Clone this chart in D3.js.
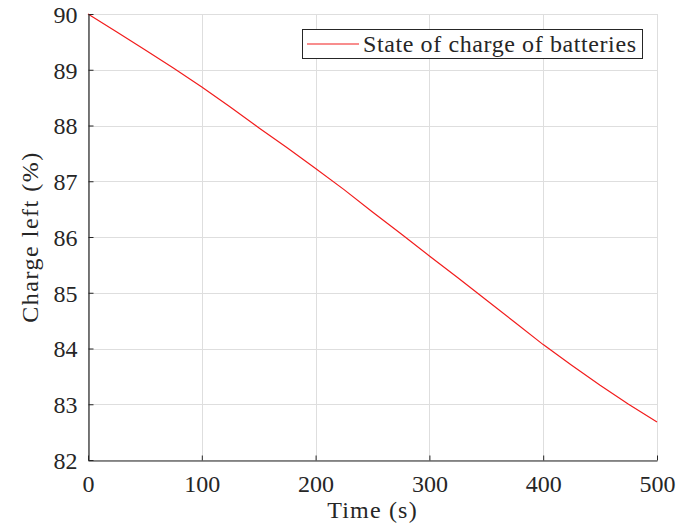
<!DOCTYPE html>
<html>
<head>
<meta charset="utf-8">
<script src="https://cdn.jsdelivr.net/npm/d3@7"></script>
<style>
  html, body { margin: 0; padding: 0; background: #fff; }
  svg { display: block; }
  text { font-family: "Liberation Serif", "DejaVu Serif", serif; fill: #262626; }
</style>
</head>
<body>
<svg id="chart" width="690" height="524"></svg>
<script>
// Battery state of charge over time
const timeS = [0, 25, 50, 75, 100, 125, 150, 175, 200, 225, 250, 275, 300, 325, 350, 375, 400, 425, 450, 475, 500];
const chargePct = [90.00, 89.68, 89.36, 89.03, 88.69, 88.33, 87.96, 87.60, 87.23, 86.85, 86.45, 86.06, 85.66, 85.27, 84.87, 84.47, 84.07, 83.70, 83.34, 83.00, 82.68];
const xTicks = [0, 100, 200, 300, 400, 500];
const yTicks = [82, 83, 84, 85, 86, 87, 88, 89, 90];
const seriesName = "State of charge of batteries";
const xLabel = "Time (s)";
const yLabel = "Charge left (%)";

const svg = d3.select("#chart");
const m = { left: 88, right: 657, top: 14, bottom: 460 };

const x = d3.scaleLinear().domain([0, 500]).range([m.left, m.right]);
const y = d3.scaleLinear().domain([82, 90]).range([m.bottom, m.top]);

const fontSize = 24;
const serif = '"Liberation Serif", "DejaVu Serif", serif';

// grid
const grid = svg.append("g").attr("stroke", "#dedede").attr("stroke-width", 1);
grid.selectAll("line.v").data(xTicks).join("line")
  .attr("x1", d => Math.round(x(d)) + 0.5).attr("x2", d => Math.round(x(d)) + 0.5)
  .attr("y1", m.top).attr("y2", m.bottom);
grid.selectAll("line.h").data(yTicks).join("line")
  .attr("y1", d => Math.round(y(d)) + 0.5).attr("y2", d => Math.round(y(d)) + 0.5)
  .attr("x1", m.left).attr("x2", m.right);

// data line
const line = d3.line().x((d, i) => x(timeS[i])).y(d => y(d));
svg.append("path")
  .datum(chargePct)
  .attr("fill", "none")
  .attr("stroke", "#f21c1c")
  .attr("stroke-width", 1.2)
  .attr("d", line);

// axes (ticks point inward)
const xAxis = d3.axisBottom(x).tickValues(xTicks).tickSizeInner(-5).tickSizeOuter(0).tickPadding(14);
const yAxis = d3.axisLeft(y).tickValues(yTicks).tickSizeInner(-5).tickSizeOuter(0).tickPadding(11);

const gx = svg.append("g").attr("transform", `translate(0,${m.bottom + 0.5})`).call(xAxis);
const gy = svg.append("g").attr("transform", `translate(${m.left + 0.5},0)`).call(yAxis);
[gx, gy].forEach(g => {
  g.attr("font-family", null).attr("font-size", null);
  g.select(".domain").attr("stroke", "#262626").attr("stroke-width", 1.2);
  g.selectAll(".tick line").attr("stroke", "#262626");
  g.selectAll(".tick text")
    .style("font-family", serif)
    .attr("font-size", fontSize).attr("fill", "#262626");
});
gx.selectAll(".tick text").attr("dy", "0.71em");
gy.selectAll(".tick text").attr("dy", "0.35em");

// axis titles
svg.append("text")
  .attr("x", (m.left + m.right) / 2).attr("y", 518)
  .attr("text-anchor", "middle").attr("font-size", fontSize)
  .attr("letter-spacing", 1.2)
  .text(xLabel);
svg.append("text")
  .attr("transform", `translate(38,${(m.top + m.bottom) / 2}) rotate(-90)`)
  .attr("text-anchor", "middle").attr("font-size", fontSize)
  .attr("letter-spacing", 1.5)
  .text(yLabel);

// legend
const lg = svg.append("g");
lg.append("rect")
  .attr("x", 302.5).attr("y", 29.5).attr("width", 340).attr("height", 29)
  .attr("fill", "#fff").attr("stroke", "#262626").attr("stroke-width", 1);
lg.append("line")
  .attr("x1", 307).attr("x2", 359).attr("y1", 44).attr("y2", 44)
  .attr("stroke", "#f21c1c").attr("stroke-width", 1.2);
lg.append("text")
  .attr("x", 363).attr("y", 51.5).attr("font-size", fontSize)
  .attr("letter-spacing", 0.6)
  .text(seriesName);
</script>
</body>
</html>
